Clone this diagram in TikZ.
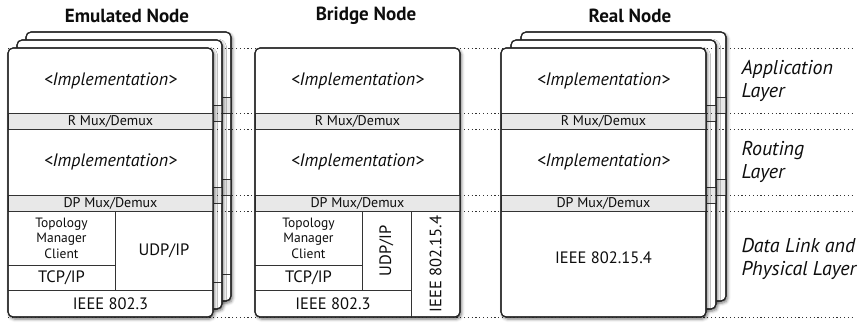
\documentclass[tikz,border=0pt]{standalone}
\usepackage{fontspec}
\setmainfont{PT Sans}
\usepackage{tikz}
\usetikzlibrary{shadows.blur}

\tikzset{
  card/.style={fill=white, draw=black!85, line width=1.1pt, rounded corners=5pt},
  cardshadow/.style={blur shadow={shadow xshift=1.5pt, shadow yshift=-2pt, shadow blur radius=3pt, shadow opacity=55}},
  cardedge/.style={draw=black!85, line width=1.1pt, rounded corners=5pt},
  muxband/.style={fill=black!9, draw=black!80, line width=0.7pt},
  divider/.style={draw=black!80, line width=0.7pt},
  layerline/.style={draw=black!80, line width=0.6pt, dash pattern=on 1.2pt off 2.6pt},
  impl/.style={font=\fontsize{18}{20}\selectfont\itshape, text=black!95},
  mux/.style={font=\fontsize{14}{16}\selectfont, text=black!95},
  proto/.style={font=\fontsize{16.5}{18}\selectfont, text=black!95},
  tmc/.style={font=\fontsize{13.5}{15.5}\selectfont, align=center, text=black!95},
  title/.style={font=\fontsize{19}{21}\selectfont\bfseries, text=black!95},
  layer/.style={font=\fontsize{20}{23}\selectfont\itshape, align=left, anchor=west, text=black!95}
}

\begin{document}
\begin{tikzpicture}[x=1pt, y=-1pt]
  \useasboundingbox (0,0) rectangle (859,322);

  % emulated node, cards behind
  \begin{scope}[shift={(26,32)}]
    \draw[card, cardshadow] (0,0) rectangle (205,269);
    \draw[muxband] (0,65) rectangle (205,81);
    \draw[muxband] (0,147) rectangle (205,163.7);
    \draw[divider] (0,242) -- (205,242);
    \draw[cardedge] (0,0) rectangle (205,269);
  \end{scope}

  \begin{scope}[shift={(17,40)}]
    \draw[card, cardshadow] (0,0) rectangle (205,269);
    \draw[muxband] (0,65) rectangle (205,81);
    \draw[muxband] (0,147) rectangle (205,163.7);
    \draw[divider] (0,242) -- (205,242);
    \draw[cardedge] (0,0) rectangle (205,269);
  \end{scope}

  % real node, cards behind
  \begin{scope}[shift={(521,32)}]
    \draw[card, cardshadow] (0,0) rectangle (205,269);
    \draw[muxband] (0,65) rectangle (205,81);
    \draw[muxband] (0,147) rectangle (205,163.7);
    \draw[cardedge] (0,0) rectangle (205,269);
  \end{scope}

  \begin{scope}[shift={(511,40)}]
    \draw[card, cardshadow] (0,0) rectangle (205,269);
    \draw[muxband] (0,65) rectangle (205,81);
    \draw[muxband] (0,147) rectangle (205,163.7);
    \draw[cardedge] (0,0) rectangle (205,269);
  \end{scope}

  % layer borders
  \draw[layerline] (8,48) -- (852,48);
  \draw[layerline] (8,113) -- (852,113);
  \draw[layerline] (8,129) -- (852,129);
  \draw[layerline] (8,195) -- (852,195);
  \draw[layerline] (8,211.7) -- (852,211.7);
  \draw[layerline] (8,317) -- (852,317);

  % emulated node
  \begin{scope}[shift={(8,48)}]
    \draw[card, cardshadow] (0,0) rectangle (205,269);
    \draw[muxband] (0,65) rectangle (205,81);
    \draw[muxband] (0,147) rectangle (205,163.7);
    \draw[divider] (107,163.7) -- (107,242);
    \draw[divider] (0,217) -- (107,217);
    \draw[divider] (0,242) -- (205,242);
    \draw[cardedge] (0,0) rectangle (205,269);
    \node[impl] (emuapp) at (102.5,32.5) {<Implementation>};
    \node[mux] (emurmux) at (102.5,73) {R Mux/Demux};
    \node[impl] (emuroute) at (102.5,114) {<Implementation>};
    \node[mux] (emudpmux) at (102.5,155.4) {DP Mux/Demux};
    \node[tmc] (emutmc) at (53.5,190) {Topology\\Manager\\Client};
    \node[proto] (emutcp) at (53.5,229.5) {TCP/IP};
    \node[proto] (emuudp) at (156,203) {UDP/IP};
    \node[proto] (emueth) at (102.5,255.5) {IEEE 802.3};
  \end{scope}

  % bridge node
  \begin{scope}[shift={(255,48)}]
    \draw[card, cardshadow] (0,0) rectangle (205,269);
    \draw[muxband] (0,65) rectangle (205,81);
    \draw[muxband] (0,147) rectangle (205,163.7);
    \draw[divider] (107,163.7) -- (107,242);
    \draw[divider] (0,217) -- (107,217);
    \draw[divider] (0,242) -- (156,242);
    \draw[divider] (156,163.7) -- (156,269);
    \draw[cardedge] (0,0) rectangle (205,269);
    \node[impl] (brapp) at (102.5,32.5) {<Implementation>};
    \node[mux] (brrmux) at (102.5,73) {R Mux/Demux};
    \node[impl] (brroute) at (102.5,114) {<Implementation>};
    \node[mux] (brdpmux) at (102.5,155.4) {DP Mux/Demux};
    \node[tmc] (brtmc) at (53.5,190) {Topology\\Manager\\Client};
    \node[proto] (brtcp) at (53.5,229.5) {TCP/IP};
    \node[proto, rotate=90] (brudp) at (131.5,203) {UDP/IP};
    \node[proto] (breth) at (78,255.5) {IEEE 802.3};
    \node[proto, rotate=90] (brwpan) at (180.5,216) {IEEE 802.15.4};
  \end{scope}

  % real node
  \begin{scope}[shift={(501,48)}]
    \draw[card, cardshadow] (0,0) rectangle (205,269);
    \draw[muxband] (0,65) rectangle (205,81);
    \draw[muxband] (0,147) rectangle (205,163.7);
    \draw[cardedge] (0,0) rectangle (205,269);
    \node[impl] (realapp) at (102.5,32.5) {<Implementation>};
    \node[mux] (realrmux) at (102.5,73) {R Mux/Demux};
    \node[impl] (realroute) at (102.5,114) {<Implementation>};
    \node[mux] (realdpmux) at (102.5,155.4) {DP Mux/Demux};
    \node[proto] (realwpan) at (102.5,210) {IEEE 802.15.4};
  \end{scope}

  \node[title] (emutitle) at (127,16) {Emulated Node};
  \node[title] (brtitle) at (366,16) {Bridge Node};
  \node[title] (realtitle) at (630,16) {Real Node};

  \node[layer] (applayer) at (738,81) {Application\\Layer};
  \node[layer] (routelayer) at (738,162) {Routing\\Layer};
  \node[layer] (linklayer) at (738,259) {Data Link and\\Physical Layer};

\end{tikzpicture}
\end{document}
